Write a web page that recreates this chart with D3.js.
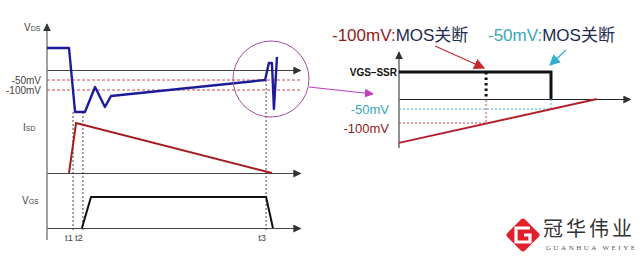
<!DOCTYPE html>
<html>
<head>
<meta charset="utf-8">
<script src="https://cdn.jsdelivr.net/npm/d3@7"></script>
<style>
  body { margin: 0; background: #fff; }
  svg { display: block; font-family: "Liberation Sans", Arial, sans-serif; }
</style>
</head>
<body>
<svg id="chart" width="644" height="256"></svg>
<script>
// left: waveforms, time in arbitrary units
var tVds = [0, 8.7, 11.1, 15.0, 19.0, 22.9, 25.3, 86.2, 87.7, 88.9, 89.7, 90.9];
var vds = [110, 110, -210, -210, -85, -185, -130, -50, 35, 35, -195, 65];
var tIsd = [8.7, 11.5, 88.9];
var isd = [0, 1, 0];
var tVgs = [13.8, 17.4, 86.6, 89.3];
var vgs = [0, 1, 1, 0];
var markNames = ["t1", "t2", "t3"];
var markT = [10.3, 14.2, 86.6];
var markFrom = [-210, -210, -50];
var thresholds = [-50, -100];
var thresholdLabels = ["-50mV", "-100mV"];

// right: zoomed detail
var rampT = [0, 85.7];
var rampV = [-171, 0];
var offT = [37.7, 65.8];          // turn-off at -100mV, -50mV
var offLabels = ["-100mV", "-50mV"];

var svg = d3.select("#chart");
var defs = svg.append("defs");
function marker(id, color, size) {
  defs.append("marker")
    .attr("id", id).attr("markerUnits", "userSpaceOnUse")
    .attr("viewBox", "0 0 10 10").attr("refX", 9).attr("refY", 5)
    .attr("markerWidth", size).attr("markerHeight", size).attr("orient", "auto")
    .append("path").attr("d", "M0,0L10,5L0,10z").attr("fill", color);
}
marker("arr", "#333", 8);
marker("arrM", "#c03cc0", 9);
marker("arrR", "#c8262a", 11);
marker("arrB", "#2eaed2", 11);

// ---------- left chart ----------
var x = d3.scaleLinear().domain([0, 100]).range([47, 300]);
var yV = d3.scaleLinear().domain([0, -100]).range([70, 90]);
var yI = d3.scaleLinear().domain([0, 1]).range([173, 123]);
var yG = d3.scaleLinear().domain([0, 1]).range([228, 197]);

var left = svg.append("g");

// y axis
left.append("line").attr("x1", x(0)).attr("x2", x(0)).attr("y1", 240).attr("y2", 24)
  .attr("stroke", "#444").attr("stroke-width", 1).attr("marker-end", "url(#arr)");

// threshold dashed lines
thresholds.forEach(function (v, i) {
  left.append("line").attr("x1", x(0)).attr("x2", x(100)).attr("y1", yV(v)).attr("y2", yV(v))
    .attr("stroke", "#d04848").attr("stroke-width", 1).attr("stroke-dasharray", "3,2");
  left.append("text").attr("x", 41).attr("y", yV(v)).attr("dy", "0.35em")
    .attr("text-anchor", "end").attr("font-size", 10).attr("fill", "#444")
    .text(thresholdLabels[i]);
});

// x axes (no ticks)
[[yV, 0], [yI, 0], [yG, 0]].forEach(function (a) {
  var g = left.append("g").attr("transform", "translate(0," + a[0](a[1]) + ")")
    .call(d3.axisBottom(x).tickValues([]).tickSizeOuter(0));
  g.select(".domain").attr("stroke", "#444").attr("marker-end", "url(#arr)");
});

// marker verticals
markT.forEach(function (t, i) {
  left.append("line").attr("x1", x(t)).attr("x2", x(t))
    .attr("y1", yV(markFrom[i])).attr("y2", 232)
    .attr("stroke", "#333").attr("stroke-width", 0.9).attr("stroke-dasharray", "2,2");
  left.append("text").attr("x", x(t) - 4).attr("y", 241).attr("text-anchor", "middle")
    .attr("font-size", 9.5).attr("fill", "#444").text(markNames[i]);
});

var line = d3.line();
left.append("path")
  .attr("d", line(tVds.map(function (t, i) { return [x(t), yV(vds[i])]; })))
  .attr("fill", "none").attr("stroke", "#1c1c9a").attr("stroke-width", 2.4)
  .attr("stroke-linejoin", "round");
left.append("path")
  .attr("d", line(tIsd.map(function (t, i) { return [x(t), yI(isd[i])]; })))
  .attr("fill", "none").attr("stroke", "#a41e1e").attr("stroke-width", 2);
left.append("path")
  .attr("d", line(tVgs.map(function (t, i) { return [x(t), yG(vgs[i])]; })))
  .attr("fill", "none").attr("stroke", "#111").attr("stroke-width", 2);

function subLabel(g, xx, yy, main, sub) {
  var t = g.append("text").attr("x", xx).attr("y", yy).attr("font-size", 10).attr("fill", "#444");
  t.append("tspan").text(main);
  t.append("tspan").attr("font-size", 7).text(sub);
}
subLabel(left, 24, 31, "V", "DS");
subLabel(left, 23, 131, "I", "SD");
subLabel(left, 22, 204, "V", "GS");

// zoom circle + connector
left.append("circle").attr("cx", 271).attr("cy", 79).attr("r", 38)
  .attr("fill", "none").attr("stroke", "#a24ea2").attr("stroke-width", 1);
left.append("line").attr("x1", 309).attr("y1", 87).attr("x2", 373).attr("y2", 94)
  .attr("stroke", "#c03cc0").attr("stroke-width", 1.2).attr("marker-end", "url(#arrM)");

// ---------- right chart ----------
var xR = d3.scaleLinear().domain([0, 100]).range([399, 630]);
var yR = d3.scaleLinear().domain([-100, -50, 0]).range([123, 109, 99]);
var yRG = d3.scaleLinear().domain([0, 1]).range([99, 72]);
var right = svg.append("g");

right.append("line").attr("x1", xR(0)).attr("x2", xR(0)).attr("y1", 148).attr("y2", 52)
  .attr("stroke", "#222").attr("stroke-width", 1).attr("marker-end", "url(#arr)");
var ax = right.append("g").attr("transform", "translate(0," + yR(0) + ")")
  .call(d3.axisBottom(xR).tickValues([]).tickSizeOuter(0));
ax.select(".domain").attr("stroke", "#222").attr("marker-end", "url(#arr)");

var tOff100 = offT[0], tOff50 = offT[1];
// threshold guides
right.append("path")
  .attr("d", line([[xR(0), yR(-50)], [xR(tOff50), yR(-50)], [xR(tOff50), yR(0)]]))
  .attr("fill", "none").attr("stroke", "#3aa8d8").attr("stroke-width", 1).attr("stroke-dasharray", "2,2");
right.append("path")
  .attr("d", line([[xR(0), yR(-100)], [xR(tOff100), yR(-100)], [xR(tOff100), yR(0)]]))
  .attr("fill", "none").attr("stroke", "#d03c3c").attr("stroke-width", 1).attr("stroke-dasharray", "2,2");

// ramp
right.append("path")
  .attr("d", line(rampT.map(function (t, i) { return [xR(t), yR(rampV[i])]; })))
  .attr("fill", "none").attr("stroke", "#b0202a").attr("stroke-width", 2);

// gate signal
right.append("path")
  .attr("d", line([[xR(0), yRG(1)], [xR(tOff50), yRG(1)], [xR(tOff50), yRG(0)]]))
  .attr("fill", "none").attr("stroke", "#111").attr("stroke-width", 3);
right.append("line").attr("x1", xR(tOff100)).attr("x2", xR(tOff100))
  .attr("y1", yRG(1)).attr("y2", yRG(0))
  .attr("stroke", "#111").attr("stroke-width", 3).attr("stroke-dasharray", "2.5,3");

right.append("text").attr("x", 397).attr("y", yRG(1)).attr("dy", "0.35em")
  .attr("text-anchor", "end").attr("font-size", 10).attr("font-weight", "bold")
  .attr("fill", "#111").text("VGS–SSR");
right.append("text").attr("x", 389).attr("y", 109).attr("dy", "0.35em")
  .attr("text-anchor", "end").attr("font-size", 13).attr("fill", "#3aa6b8").text("-50mV");
right.append("text").attr("x", 389).attr("y", 128).attr("dy", "0.35em")
  .attr("text-anchor", "end").attr("font-size", 13).attr("fill", "#8e1c1c").text("-100mV");

// titles
var titles = [
  { x: 332, color: "#8e1c1c", label: offLabels[0] },
  { x: 488, color: "#3aa6b8", label: offLabels[1] }
];
titles.forEach(function (d) {
  var t = right.append("text").attr("x", d.x).attr("y", 41).attr("font-size", 17)
    .attr("font-family", "'Liberation Sans', 'Noto Sans CJK SC', sans-serif");
  t.append("tspan").attr("fill", d.color).text(d.label + ":");
  t.append("tspan").attr("fill", "#1e2a4e").text("MOS关断");
});
right.append("line").attr("x1", 435).attr("y1", 46).attr("x2", xR(tOff100) - 2).attr("y2", 68)
  .attr("stroke", "#c8262a").attr("stroke-width", 1.2).attr("marker-end", "url(#arrR)");
right.append("line").attr("x1", 566).attr("y1", 50).attr("x2", xR(tOff50) - 1).attr("y2", 65)
  .attr("stroke", "#2eaed2").attr("stroke-width", 1.2).attr("marker-end", "url(#arrB)");

// ---------- logo ----------
var logo = svg.append("g").attr("transform", "translate(523,235)");
logo.append("rect").attr("x", -12.5).attr("y", -12.5).attr("width", 25).attr("height", 25)
  .attr("rx", 3).attr("transform", "rotate(45)").attr("fill", "#e0202a");
logo.append("path")
  .attr("d", "M7,-7H-7V7H7V0H1")
  .attr("fill", "none").attr("stroke", "#fff").attr("stroke-width", 3.2);
svg.append("text").attr("x", 543).attr("y", 236).attr("font-size", 20)
  .attr("font-family", "'Noto Sans CJK SC', sans-serif").attr("fill", "#333")
  .attr("letter-spacing", 3).text("冠华伟业");
svg.append("text").attr("x", 546).attr("y", 250).attr("font-size", 7)
  .attr("font-family", "'Liberation Serif', serif").attr("fill", "#555")
  .attr("textLength", 89).text("GUANHUA WEIYE");
</script>
</body>
</html>
